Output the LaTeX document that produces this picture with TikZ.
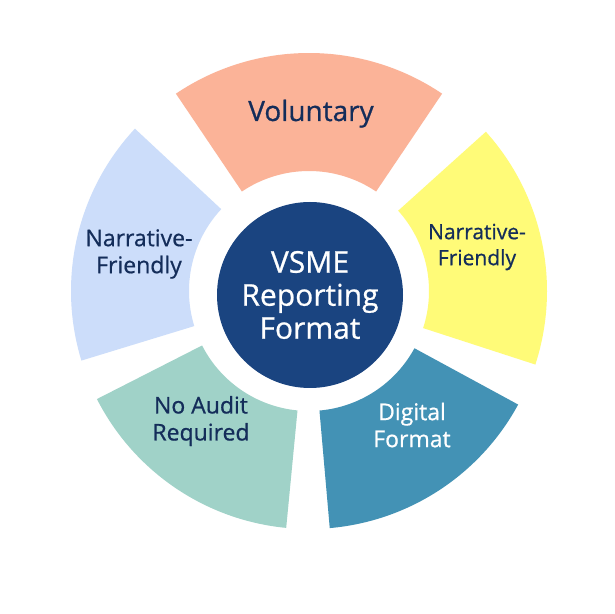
\documentclass[tikz,border=0pt]{standalone}
\usepackage{fontspec}
\setmainfont{Open Sans}
\newfontfamily\medfont[FakeBold=0.7]{Open Sans}
\usetikzlibrary{positioning}

\definecolor{salmon}{RGB}{251,179,152}
\definecolor{lemon}{RGB}{255,251,120}
\definecolor{steel}{RGB}{67,146,181}
\definecolor{mint}{RGB}{160,210,200}
\definecolor{sky}{RGB}{204,221,250}
\definecolor{hub}{RGB}{26,68,128}
\definecolor{ink}{RGB}{20,45,90}

\tikzset{
  lbl/.style={font=\medfont\fontsize{23}{27}\selectfont, text=ink, align=center},
  hubtext/.style={font=\medfont\fontsize{30}{33}\selectfont, text=white, align=center}
}

\begin{document}
\begin{tikzpicture}[x=1pt,y=1pt]
	\useasboundingbox (0,0) rectangle (614,614);
	\fill[white] (0,0) rectangle (614,614);

	% ring pieces
	\begin{scope}[shift={(309,323)}]
		\fill[salmon] (56:238) arc[start angle=56, end angle=124, radius=238] -- (124:120) arc[start angle=124, end angle=56, radius=120] -- cycle;
		\fill[sky] (137:238) arc[start angle=137, end angle=197, radius=238] -- (197:120) arc[start angle=197, end angle=137, radius=120] -- cycle;
		\fill[mint] (207:238) arc[start angle=207, end angle=264.5, radius=238] -- (264.5:120) arc[start angle=264.5, end angle=207, radius=120] -- cycle;
		\fill[steel] (-85:238) arc[start angle=-85, end angle=-28.5, radius=238] -- (-28.5:120) arc[start angle=-28.5, end angle=-85, radius=120] -- cycle;
		\fill[lemon] (-18:238) arc[start angle=-18, end angle=42, radius=238] -- (42:120) arc[start angle=42, end angle=-18, radius=120] -- cycle;
	\end{scope}

	\fill[hub] (310,319) circle (93);

	\node[lbl, font=\medfont\fontsize{28}{33}\selectfont, anchor=base] (vol) at (311,493) {Voluntary};
	\node[lbl] (narl) at (139,360) {Narrative-\\Friendly};
	\node[lbl, font=\medfont\fontsize{21}{26}\selectfont] (narr) at (477,367) {Narrative-\\Friendly};
	\node[lbl] (audit) at (201,193) {No Audit\\Required};
	\node[lbl, text=white] (digi) at (412,189) {Digital\\Format};
	\node[hubtext] (vsme) at (310,319) {VSME\\Reporting\\Format};
\end{tikzpicture}
\end{document}
